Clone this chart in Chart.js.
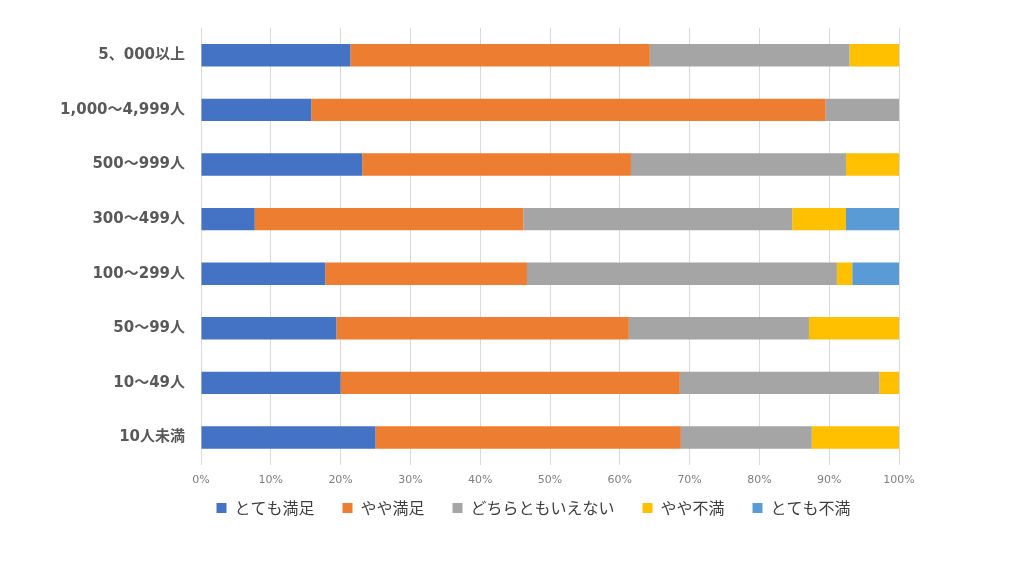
<!DOCTYPE html>
<html lang="ja">
<head>
<meta charset="utf-8">
<script src="https://cdn.jsdelivr.net/npm/chart.js@4/dist/chart.umd.min.js"></script>
<style>
  html, body { margin: 0; padding: 0; background: #fff; }
  #wrap { width: 1024px; height: 576px; }
</style>
</head>
<body>
<div id="wrap"><canvas id="chart" width="1024" height="576"></canvas></div>
<script>
// company size groups, top to bottom
const categories = ['5、000以上', '1,000～4,999人', '500～999人', '300～499人', '100～299人', '50～99人', '10～49人', '10人未満'];

// share of answers (%)
const veryGood = [21.4, 15.8, 23.1, 7.7, 17.8, 19.4, 20.0, 25.0];
const fairlyGood = [42.9, 73.7, 38.5, 38.5, 28.9, 41.9, 48.6, 43.75];
const neutral = [28.6, 10.5, 30.8, 38.5, 44.4, 25.8, 28.6, 18.75];
const fairlyBad = [7.1, 0, 7.7, 7.7, 2.2, 12.9, 2.9, 12.5];
const veryBad = [0, 0, 0, 7.7, 6.7, 0, 0, 0];

const seriesNames = ['とても満足', 'やや満足', 'どちらともいえない', 'やや不満', 'とても不満'];
const seriesColors = ['#4472C4', '#ED7D31', '#A5A5A5', '#FFC000', '#5B9BD5'];
const xTicks = [0, 10, 20, 30, 40, 50, 60, 70, 80, 90, 100];

const seriesData = [veryGood, fairlyGood, neutral, fairlyBad, veryBad];

// the legend sits a bit right of the plot centre and close under the ticks
const legendShift = {
  id: 'legendShift',
  afterLayout(chart) {
    const l = chart.legend;
    l.left += 84; l.right += 84;
    l.top -= 24; l.bottom -= 24;
  }
};

const ctx = document.getElementById('chart').getContext('2d');
new Chart(ctx, {
  type: 'bar',
  data: {
    labels: categories,
    datasets: seriesData.map((d, i) => ({
      label: seriesNames[i],
      data: d,
      backgroundColor: seriesColors[i],
      borderWidth: 0,
      categoryPercentage: 1,
      barPercentage: 0.41
    }))
  },
  options: {
    indexAxis: 'y',
    responsive: false,
    animation: false,
    layout: { padding: { top: 28, left: 0, right: 125, bottom: 26 } },
    scales: {
      x: {
        stacked: true,
        min: 0,
        max: 100,
        afterBuildTicks: axis => { axis.ticks = xTicks.map(v => ({ value: v })); },
        grid: { color: '#d9d9d9', drawTicks: false },
        border: { display: false },
        ticks: {
          padding: 9,
          color: '#7f7f7f',
          font: { family: 'DejaVu Sans', size: 11 },
          callback: v => v + '%'
        }
      },
      y: {
        stacked: true,
        afterFit: axis => { axis.width = 201; },
        grid: { display: false, drawTicks: false },
        border: { display: false },
        ticks: {
          padding: 16,
          color: '#595959',
          font: { family: "'DejaVu Sans', 'Noto Sans CJK JP'", size: 15, weight: 'bold' }
        }
      }
    },
    plugins: {
      tooltip: { enabled: false },
      legend: {
        position: 'bottom',
        labels: {
          boxWidth: 10,
          boxHeight: 10,
          padding: 28,
          color: '#404040',
          font: { family: "'Noto Sans CJK JP'", size: 16 }
        }
      }
    }
  },
  plugins: [legendShift]
});
</script>
</body>
</html>
